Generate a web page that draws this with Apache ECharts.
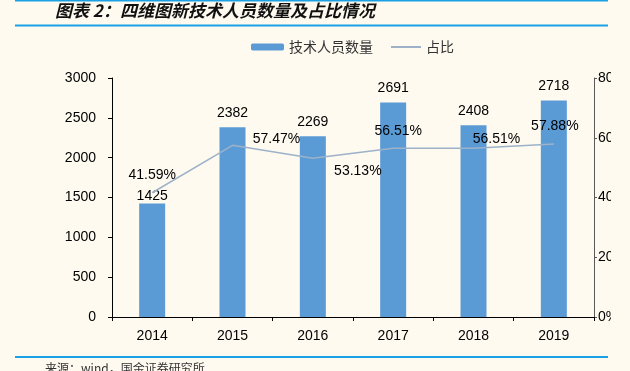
<!DOCTYPE html>
<html>
<head>
<meta charset="utf-8">
<script src="https://cdn.jsdelivr.net/npm/echarts@6/dist/echarts.min.js"></script>
<style>
html,body{margin:0;padding:0;background:#FEFAF0;}
#chart{width:630px;height:371px;}
</style>
</head>
<body>
<div id="chart"></div>
<script>
var categories = ['2014', '2015', '2016', '2017', '2018', '2019'];
var staffCount = [1425, 2382, 2269, 2691, 2408, 2718];
var staffShare = [0.4159, 0.5747, 0.5313, 0.5651, 0.5651, 0.5788];
var shareLabels = ['41.59%', '57.47%', '53.13%', '56.51%', '56.51%', '57.88%'];
var leftTicks = {min: 0, max: 3000, interval: 500};
var rightTicks = {min: 0, max: 0.8, interval: 0.2};

var titleText = '图表 2：四维图新技术人员数量及占比情况';
var sourceText = '来源：wind，国金证券研究所';
var barName = '技术人员数量';
var lineName = '占比';

var NUM_FONT = '"Liberation Sans", Arial, "Noto Sans CJK SC", sans-serif';
var CJK_FONT = '"Noto Sans CJK SC", "Liberation Sans", sans-serif';
var BLUE_RULE = '#1AA0E4';
var BG = '#FEFAF0';

// label placement offsets for the ratio line (style only)
var lineLabelOffsets = [[0, -18], [44, -6], [45, 13], [5, -17], [23, -9], [1, -18]];
var barLabelDistances = [0, 7, 7, 7, 7, 7];

var barData = staffCount.map(function (v, i) {
  return {value: v, label: {distance: barLabelDistances[i]}};
});
var lineData = staffShare.map(function (v, i) {
  return {value: v, label: {offset: lineLabelOffsets[i], formatter: shareLabels[i]}};
});

var chart = echarts.init(document.getElementById('chart'), null, {renderer: 'canvas'});
chart.setOption({
  backgroundColor: BG,
  animation: false,
  textStyle: {fontFamily: NUM_FONT},
  graphic: [
    {type: 'line', shape: {x1: 15, y1: 0.5, x2: 608, y2: 0.5}, style: {stroke: BLUE_RULE, lineWidth: 2}},
    {type: 'line', shape: {x1: 15, y1: 25.5, x2: 608, y2: 25.5}, style: {stroke: BLUE_RULE, lineWidth: 2}},
    {type: 'line', shape: {x1: 15, y1: 357, x2: 608, y2: 357}, style: {stroke: BLUE_RULE, lineWidth: 2}},
    {type: 'text', left: 55, top: 2, style: {text: titleText, fill: '#111', font: 'italic bold 17px "Noto Sans CJK SC", sans-serif'}},
    {type: 'text', left: 45, top: 362, style: {text: sourceText, fill: '#333', font: '12px "Noto Sans CJK SC", sans-serif'}},
    {type: 'rect', z: 100, shape: {x: 611, y: 30, width: 19, height: 320}, style: {fill: BG}}
  ],
  legend: [
    {
      data: [barName], left: 251, top: 40, padding: 0,
      itemWidth: 33, itemHeight: 7,
      textStyle: {fontSize: 14, color: '#333', fontFamily: CJK_FONT}
    },
    {
      data: [lineName], left: 390, top: 40, padding: 0,
      itemWidth: 30, itemHeight: 7,
      textStyle: {fontSize: 14, color: '#333', fontFamily: CJK_FONT}
    }
  ],
  grid: {left: 112, right: 36, top: 78, bottom: 54, containLabel: false},
  xAxis: [
    {
      type: 'category', data: categories,
      axisLine: {lineStyle: {color: '#000', width: 1}},
      axisTick: {show: true, length: 4, lineStyle: {color: '#000'}},
      axisLabel: {fontSize: 14, color: '#000', margin: 12, fontFamily: NUM_FONT}
    },
    {
      type: 'category', data: categories, position: 'bottom',
      axisLine: {show: false},
      axisTick: {show: true, inside: true, alignWithLabel: true, length: 3, lineStyle: {color: '#000'}},
      axisLabel: {show: false}
    }
  ],
  yAxis: [
    {
      type: 'value', min: leftTicks.min, max: leftTicks.max, interval: leftTicks.interval,
      axisLine: {show: true, lineStyle: {color: '#000'}},
      axisTick: {show: true, length: 4, lineStyle: {color: '#000'}},
      splitLine: {show: false},
      axisLabel: {fontSize: 14, color: '#000', margin: 16, fontFamily: NUM_FONT,
        formatter: function (v) { return String(v); }}
    },
    {
      type: 'value', min: rightTicks.min, max: rightTicks.max, interval: rightTicks.interval,
      position: 'right',
      axisLine: {show: true, lineStyle: {color: '#595959'}},
      axisTick: {show: true, length: 3, lineStyle: {color: '#595959'}},
      splitLine: {show: false},
      axisLabel: {fontSize: 14, color: '#000', margin: 4, fontFamily: NUM_FONT,
        formatter: function (v) { return Math.round(v * 100) + '%'; }}
    }
  ],
  series: [
    {
      name: barName, type: 'bar', xAxisIndex: 0, yAxisIndex: 0,
      data: barData, barWidth: 26,
      itemStyle: {color: '#5B9BD5'},
      label: {show: true, position: 'top', fontSize: 14, color: '#000', fontFamily: NUM_FONT}
    },
    {
      name: lineName, type: 'line', xAxisIndex: 0, yAxisIndex: 1,
      data: lineData,
      symbol: 'circle', symbolSize: 1, showSymbol: true,
      itemStyle: {color: 'rgba(157,178,201,0)'},
      lineStyle: {color: '#9DB2C9', width: 1.5},
      label: {show: true, position: 'inside', fontSize: 14, color: '#000', fontFamily: NUM_FONT}
    }
  ]
});
</script>
</body>
</html>
